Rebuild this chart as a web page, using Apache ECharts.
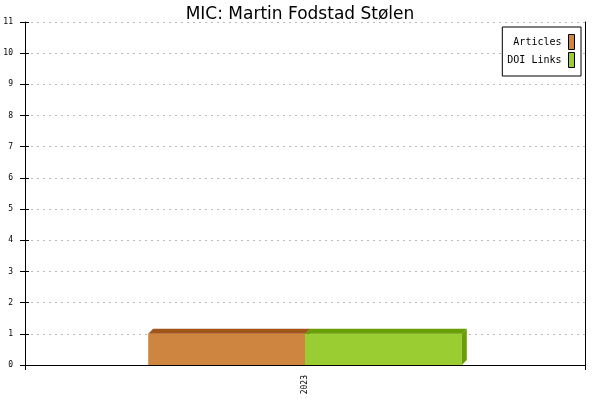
<!DOCTYPE html>
<html>
<head>
<meta charset="utf-8">
<script src="https://cdn.jsdelivr.net/npm/echarts@6/dist/echarts.min.js"></script>
<style>
  html, body { margin: 0; padding: 0; background: #fff; }
  #chart { width: 600px; height: 400px; }
</style>
</head>
<body>
<div id="chart"></div>
<script>
var categories = ['2023'];
var articles = [1];
var doiLinks = [1];
var yMin = 0, yMax = 11, yStep = 1;

var dom = document.getElementById('chart');
var myChart = echarts.init(dom);

var DEPTH = 5;      // 3D offset, px
var BAR_FRAC = 0.28; // bar width as share of the category band

// side: -1 = left bar, 0 = right bar
function makeBar(side, front, dark) {
    return function (params, api) {
        var base = api.coord([api.value(0), 0]);
        var top = api.coord([api.value(0), api.value(1)]);
        var w = api.size([1, 0])[0] * BAR_FRAC;
        var x0 = base[0] + side * w;
        var x1 = x0 + w;
        var y0 = top[1], y1 = base[1];
        return {
            type: 'group',
            children: [
                { type: 'rect', shape: { x: x0, y: y0, width: w, height: y1 - y0 },
                  style: { fill: front } },
                { type: 'polygon', shape: { points: [[x0, y0], [x0 + DEPTH, y0 - DEPTH], [x1 + DEPTH, y0 - DEPTH], [x1, y0]] },
                  style: { fill: dark } },
                { type: 'polygon', shape: { points: [[x1, y0], [x1 + DEPTH, y0 - DEPTH], [x1 + DEPTH, y1 - DEPTH], [x1, y1]] },
                  style: { fill: dark } }
            ]
        };
    };
}

function pairs(vals) {
    return vals.map(function (v, i) { return [i, v]; });
}

option = {
    animation: false,
    title: {
        text: 'MIC: Martin Fodstad Stølen',
        left: 'center',
        top: 1,
        textStyle: { fontFamily: 'DejaVu Sans', fontSize: 17, fontWeight: 'normal', color: '#000' }
    },
    legend: {
        orient: 'vertical',
        right: 19,
        top: 27,
        align: 'right',
        icon: 'rect',
        itemWidth: 6,
        itemHeight: 15,
        itemGap: 2,
        padding: [7, 6, 8, 5],
        backgroundColor: '#fff',
        borderColor: '#000',
        borderWidth: 1,
        borderRadius: 0,
        itemStyle: { borderColor: '#000', borderWidth: 1 },
        textStyle: { fontFamily: 'DejaVu Sans Mono', fontSize: 10, color: '#000', padding: [0, 2, 0, 0] },
        data: ['Articles', 'DOI Links']
    },
    grid: { left: 25, right: 15, top: 22, bottom: 35 },
    xAxis: {
        type: 'category',
        data: categories,
        axisLine: { lineStyle: { color: '#000', width: 1 } },
        axisTick: { show: true, length: 5, lineStyle: { color: '#000' } },
        axisLabel: { rotate: 90, margin: 10, fontFamily: 'DejaVu Sans Mono', fontSize: 8, color: '#000' }
    },
    yAxis: [
        {
            type: 'value',
            min: yMin, max: yMax, interval: yStep,
            axisLine: { show: true, lineStyle: { color: '#000' } },
            axisTick: { show: true, length: 5, lineStyle: { color: '#000' } },
            axisLabel: { margin: 12, fontFamily: 'DejaVu Sans Mono', fontSize: 8, color: '#000' },
            splitLine: { show: true, lineStyle: { color: '#bbb', type: [2, 4] } }
        },
        {
            // inner half of the left ticks
            type: 'value', position: 'left',
            min: yMin, max: yMax, interval: yStep,
            axisLine: { show: false },
            axisTick: { show: true, inside: true, length: 4, lineStyle: { color: '#000' } },
            axisLabel: { show: false },
            splitLine: { show: false }
        },
        {
            // right frame line
            type: 'value', position: 'right',
            min: yMin, max: yMax, interval: yStep,
            axisLine: { show: true, lineStyle: { color: '#000' } },
            axisTick: { show: false },
            axisLabel: { show: false },
            splitLine: { show: false }
        }
    ],
    series: [
        {
            name: 'Articles',
            type: 'custom',
            renderItem: makeBar(-1, '#CD853F', '#A0561A'),
            itemStyle: { color: '#CD853F' },
            encode: { x: 0, y: 1 },
            data: pairs(articles),
            z: 3
        },
        {
            name: 'DOI Links',
            type: 'custom',
            renderItem: makeBar(0, '#9ACD32', '#6A9E06'),
            itemStyle: { color: '#9ACD32' },
            encode: { x: 0, y: 1 },
            data: pairs(doiLinks),
            z: 4
        }
    ]
};

if (option && typeof option === 'object') {
    myChart.setOption(option, true);
}
</script>
</body>
</html>
